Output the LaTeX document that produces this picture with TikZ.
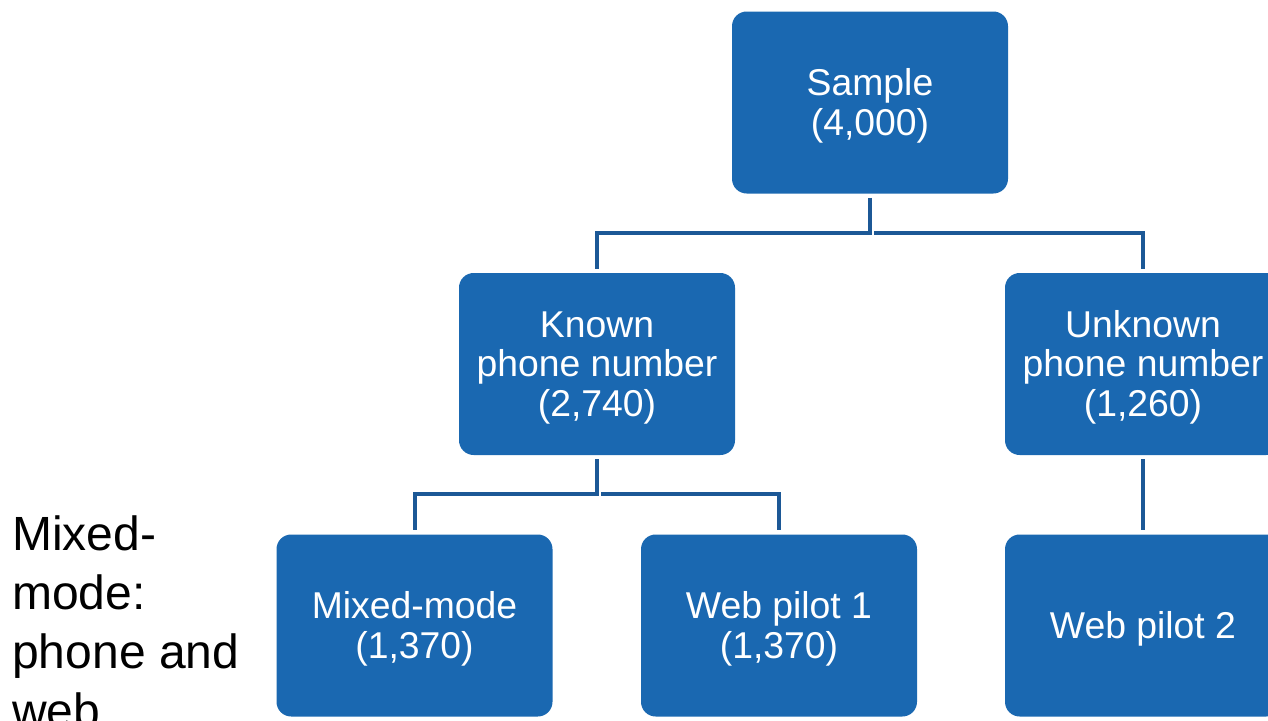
\documentclass[tikz,border=0pt]{standalone}
\usepackage{fontspec}
\setmainfont{Liberation Sans}
\definecolor{boxblue}{RGB}{26,104,177}
\definecolor{lineblue}{RGB}{28,88,150}
\newcommand{\tstrut}{\rule{0pt}{25pt}}
\begin{document}
\begin{tikzpicture}[x=0.75pt,y=-0.75pt,
  box/.style={draw=none,fill=boxblue,rounded corners=11pt,minimum width=207pt,minimum height=136.5pt,inner sep=0pt,text=white,align=center,font=\fontsize{28}{29.6}\selectfont},
  conn/.style={draw=lineblue,line width=3pt,shorten <=3pt,shorten >=3pt}]
\useasboundingbox (0,0) rectangle (1268,721);
\clip (0,0) rectangle (1268,721);
\node[box] (sample) at (870,102.5) {\tstrut Sample\\(4,000)};
\node[box] (known) at (597,364) {\tstrut Known\\phone number\\(2,740)};
\node[box] (unknown) at (1143,364) {\tstrut Unknown\\phone number\\(1,260)};
\node[box] (mixed) at (414.5,625.5) {\tstrut Mixed-mode\\(1,370)};
\node[box] (web1) at (779,625.5) {\tstrut Web pilot 1\\(1,370)};
\node[box] (web2) at (1143,625.5) {\tstrut Web pilot 2};
\node[anchor=base west,align=left,inner sep=0pt,font=\fontsize{36}{44.2}\selectfont] (label) at (12,727) {Mixed-\\mode:\\phone and\\web};
\coordinate (j1) at (870,233);
\coordinate (j2) at (597,494);
\draw[conn] (sample.south) |- (j1) -| (known.north);
\draw[conn] (j1) -| (unknown.north);
\draw[conn] (known.south) |- (j2) -| (mixed.north);
\draw[conn] (j2) -| (web1.north);
\draw[conn] (unknown.south) -- (web2.north);
\end{tikzpicture}
\end{document}
